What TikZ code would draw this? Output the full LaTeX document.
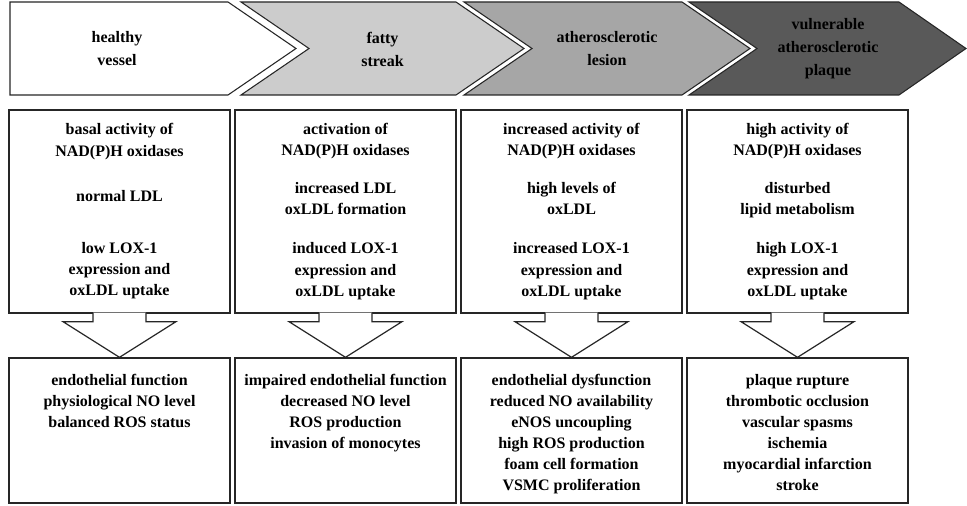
\documentclass[tikz,border=0pt]{standalone}
\usepackage{fontspec}
\setmainfont{Liberation Serif}
\usepackage{xcolor}
\usepackage{tikz}
\usetikzlibrary{positioning,calc}

\definecolor{stageA}{gray}{1.00}
\definecolor{stageB}{gray}{0.80}
\definecolor{stageC}{gray}{0.65}
\definecolor{stageD}{gray}{0.35}

\begin{document}
\begin{tikzpicture}[x=0.75pt,y=-0.75pt,
    font=\fontsize{12}{16}\selectfont\bfseries,
    stage/.style={draw=black!85,line width=0.8pt},
    stagetxt/.style={align=center,font=\fontsize{12}{17.25}\selectfont\bfseries},
    cause/.style={draw=black!85,line width=1pt,minimum width=165.75pt,minimum height=152.25pt,align=center,inner sep=0pt},
    effect/.style={draw=black!85,line width=1pt,minimum width=165.75pt,minimum height=108.75pt,inner sep=0pt},
    efftxt/.style={align=center,inner sep=0pt,font=\fontsize{12}{15.75}\selectfont\bfseries},
    blockarrow/.style={draw=black!85,line width=0.9pt,fill=white}]
  \useasboundingbox (0,0) rectangle (967,506);

  % stages
  \filldraw[stage,fill=stageA] (10,2) -- (228,2) -- (296,48.5) -- (228,95) -- (10,95) -- cycle;
  \filldraw[stage,fill=stageB] (241,2) -- (456,2) -- (524,48.5) -- (456,95) -- (241,95) -- (309,48.5) -- cycle;
  \filldraw[stage,fill=stageC] (464,2) -- (682,2) -- (750,48.5) -- (682,95) -- (464,95) -- (532,48.5) -- cycle;
  \filldraw[stage,fill=stageD] (689,2) -- (899,2) -- (966,48.5) -- (899,95) -- (689,95) -- (757,48.5) -- cycle;
  \node[stagetxt] (s1) at (117,49) {healthy\\vessel};
  \node[stagetxt] (s2) at (382.5,49) {fatty\\streak};
  \node[stagetxt] (s3) at (607,49) {atherosclerotic\\lesion};
  \node[stagetxt] (s4) at (828,49) {vulnerable\\atherosclerotic\\plaque};

  % mechanisms
  \node[cause] (c1) at (119.5,211.5) {basal activity of\\NAD(P)H oxidases\\[17.75pt]normal LDL\\[23pt]low LOX-1\\expression and\\oxLDL uptake};
  \node[cause] (c2) at (345.5,211.5) {activation of\\NAD(P)H oxidases\\[12.5pt]increased LDL\\oxLDL formation\\[13.25pt]induced LOX-1\\expression and\\oxLDL uptake};
  \node[cause] (c3) at (571.5,211.5) {increased activity of\\NAD(P)H oxidases\\[12.5pt]high levels of\\oxLDL\\[13.25pt]increased LOX-1\\expression and\\oxLDL uptake};
  \node[cause] (c4) at (797.5,211.5) {high activity of\\NAD(P)H oxidases\\[12.5pt]disturbed\\lipid metabolism\\[13.25pt]high LOX-1\\expression and\\oxLDL uptake};

  % consequences
  \node[effect] (e1) at (119.5,430.5) {};
  \node[effect] (e2) at (345.5,430.5) {};
  \node[effect] (e3) at (571.5,430.5) {};
  \node[effect] (e4) at (797.5,430.5) {};
  \node[efftxt,below=12.75pt of e1.north] (t1) {endothelial function\\physiological NO level\\balanced ROS status};
  \node[efftxt,below=12.75pt of e2.north] (t2) {impaired endothelial function\\decreased NO level\\ROS production\\invasion of monocytes};
  \node[efftxt,below=12.75pt of e3.north] (t3) {endothelial dysfunction\\reduced NO availability\\eNOS uncoupling\\high ROS production\\foam cell formation\\VSMC proliferation};
  \node[efftxt,below=12.75pt of e4.north] (t4) {plaque rupture\\thrombotic occlusion\\vascular spasms\\ischemia\\myocardial infarction\\stroke};

  % block arrows
  \draw[blockarrow] ($(c1.south)+(-26.5,-1)$) -- ++(0,9) -- ++(-30,0) -- (e1.north) -- ($(c1.south)+(56.5,8)$) -- ++(-30,0) -- ++(0,-9);
  \draw[blockarrow] ($(c2.south)+(-26.5,-1)$) -- ++(0,9) -- ++(-30,0) -- (e2.north) -- ($(c2.south)+(56.5,8)$) -- ++(-30,0) -- ++(0,-9);
  \draw[blockarrow] ($(c3.south)+(-26.5,-1)$) -- ++(0,9) -- ++(-30,0) -- (e3.north) -- ($(c3.south)+(56.5,8)$) -- ++(-30,0) -- ++(0,-9);
  \draw[blockarrow] ($(c4.south)+(-26.5,-1)$) -- ++(0,9) -- ++(-30,0) -- (e4.north) -- ($(c4.south)+(56.5,8)$) -- ++(-30,0) -- ++(0,-9);
\end{tikzpicture}
\end{document}
